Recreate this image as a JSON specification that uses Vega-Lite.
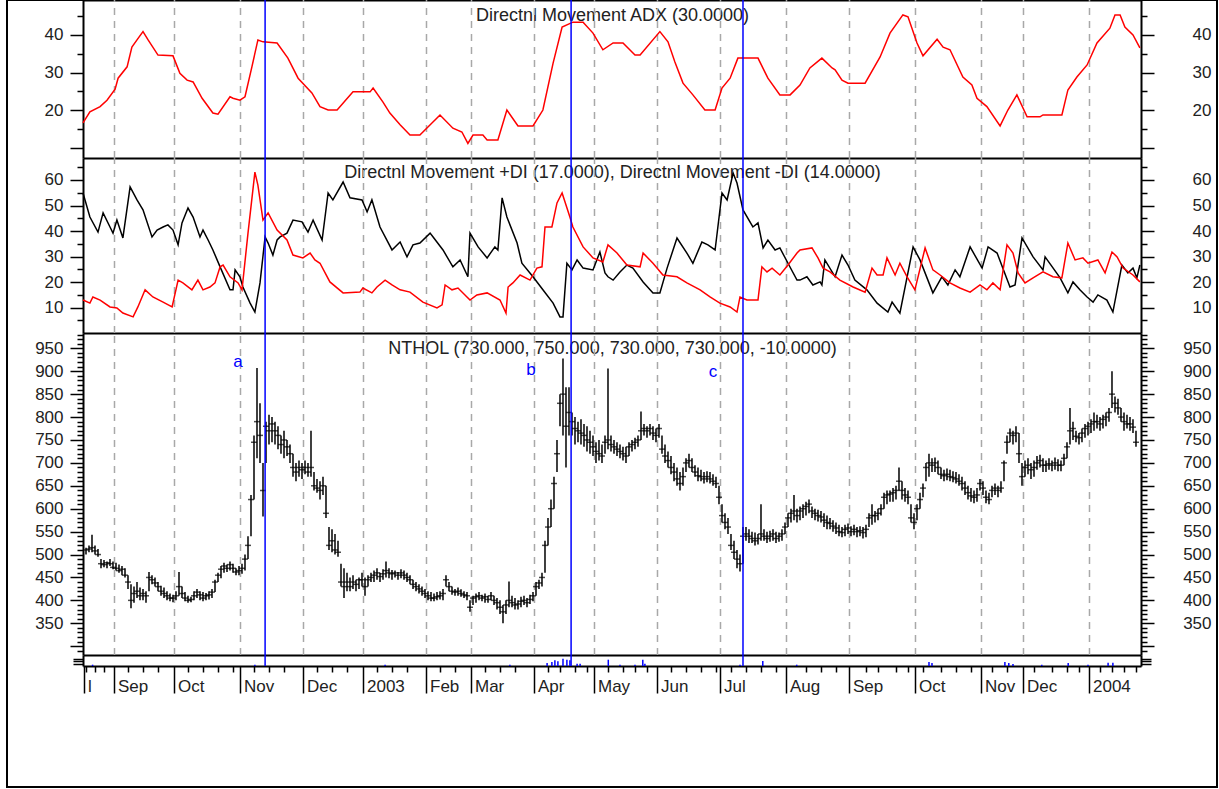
{
"$schema":"https://vega.github.io/schema/vega-lite/v6.json",
"width":1210,"height":787,
"autosize":{"type":"none"},
"padding":{"left":7,"top":0,"right":2,"bottom":2},
"background":"white",
"config":{
 "font":"Liberation Sans",
 "view":{"stroke":"black","strokeWidth":2},
 "axis":{"domainColor":"black","domainWidth":2,"tickColor":"black","tickWidth":1.5,"labelColor":"#222","labelFont":"Liberation Sans","labelFontSize":17,"labelOverlap":false,"labelFlush":false,"labelBound":false,"titleFont":"Liberation Sans","titleFontSize":18,"titleFontWeight":"normal","titleColor":"#222","grid":false}
},
"datasets":{
 "months":[{"m":10.5},{"m":30.5},{"m":52.5},{"m":73.5},{"m":93.5},{"m":114.5},{"m":129.5},{"m":150.5},{"m":170.5},{"m":191.5},{"m":212.5},{"m":234.5},{"m":255.5},{"m":277.5},{"m":299.5},{"m":313.5},{"m":335.5}],
 "events":[{"i":60.7},{"i":162.7},{"i":220}],
 "notes":[{"i":51.7,"p":920,"t":"a"},{"i":149.3,"p":903,"t":"b"},{"i":210,"p":898,"t":"c"}],
 "adx":[{"i":0,"v":16.7},{"i":2.3,"v":19.6},{"i":5.7,"v":21},{"i":8,"v":22.7},{"i":10.7,"v":25.6},{"i":11.7,"v":28.5},{"i":14.7,"v":31.5},{"i":16.3,"v":36.7},{"i":18,"v":38.6},{"i":20,"v":40.8},{"i":21.7,"v":38.6},{"i":25,"v":34.6},{"i":30,"v":34.4},{"i":32.3,"v":29.8},{"i":34.7,"v":28},{"i":36.7,"v":27.5},{"i":39.7,"v":23.2},{"i":43.3,"v":19.3},{"i":45,"v":19},{"i":49,"v":23.6},{"i":50,"v":23.2},{"i":52.3,"v":22.7},{"i":54,"v":23.6},{"i":56.3,"v":31.5},{"i":58.3,"v":38.6},{"i":60,"v":38.1},{"i":64.7,"v":37.8},{"i":68.3,"v":33.8},{"i":71.7,"v":28.5},{"i":76.3,"v":24.6},{"i":79,"v":21},{"i":81.7,"v":20.1},{"i":84.7,"v":20.1},{"i":90,"v":24.9},{"i":95.7,"v":24.9},{"i":96.7,"v":25.9},{"i":100,"v":22.2},{"i":102.3,"v":19.3},{"i":105.7,"v":16.2},{"i":109,"v":13.5},{"i":112.3,"v":13.5},{"i":119,"v":18.8},{"i":123.3,"v":15.3},{"i":126.3,"v":14.3},{"i":128.3,"v":11.3},{"i":130,"v":13.5},{"i":133.3,"v":13.5},{"i":134.7,"v":12.2},{"i":138.3,"v":12.2},{"i":141.3,"v":20.1},{"i":145,"v":15.9},{"i":150,"v":15.9},{"i":153.3,"v":20.1},{"i":156.7,"v":32.5},{"i":159.7,"v":42},{"i":163.3,"v":43.3},{"i":166.7,"v":43.3},{"i":170,"v":40.4},{"i":173.3,"v":36},{"i":176.7,"v":37.8},{"i":180,"v":37.8},{"i":184,"v":34.6},{"i":185.7,"v":34.6},{"i":192.3,"v":40.8},{"i":195,"v":38.1},{"i":197.3,"v":32.8},{"i":200,"v":27.2},{"i":203.3,"v":24.1},{"i":207.3,"v":20.1},{"i":210.7,"v":20.1},{"i":213,"v":25.9},{"i":215.7,"v":28.5},{"i":218.3,"v":33.8},{"i":225,"v":33.8},{"i":228.3,"v":28.5},{"i":232.3,"v":24.1},{"i":235.7,"v":24.1},{"i":239,"v":26.7},{"i":242.3,"v":31.2},{"i":246.3,"v":33.8},{"i":249.7,"v":31.2},{"i":250.7,"v":30.7},{"i":253,"v":28},{"i":255,"v":27.2},{"i":260.7,"v":27.2},{"i":265.7,"v":34.1},{"i":269,"v":40.4},{"i":273.3,"v":45.2},{"i":275,"v":44.7},{"i":278,"v":37.8},{"i":280,"v":34.4},{"i":284.7,"v":38.8},{"i":286.7,"v":36.7},{"i":289,"v":36},{"i":293.3,"v":28.8},{"i":296.3,"v":26.7},{"i":298,"v":23.2},{"i":301.3,"v":21},{"i":305.7,"v":15.9},{"i":308.3,"v":20.1},{"i":311.3,"v":24.1},{"i":314.7,"v":18.3},{"i":319,"v":18.3},{"i":320,"v":18.8},{"i":326.3,"v":18.8},{"i":328.3,"v":25.4},{"i":331.3,"v":28.8},{"i":334.7,"v":32},{"i":338,"v":37.8},{"i":342.3,"v":41.7},{"i":344,"v":45.2},{"i":345.7,"v":45.2},{"i":347.3,"v":42},{"i":350,"v":39.9},{"i":352.3,"v":36.5}],
 "mdi":[{"i":0,"v":54.9},{"i":2.3,"v":45.5},{"i":5,"v":39.6},{"i":6.7,"v":47.1},{"i":9,"v":41.6},{"i":10,"v":39.2},{"i":11.3,"v":44.3},{"i":13.3,"v":37.3},{"i":15.7,"v":57.3},{"i":18,"v":52.2},{"i":20,"v":48.3},{"i":23,"v":37.7},{"i":24.7,"v":40.4},{"i":26.7,"v":41.6},{"i":28.3,"v":42.4},{"i":30,"v":40.4},{"i":31.7,"v":34.6},{"i":33,"v":43.2},{"i":35,"v":49},{"i":36.7,"v":45.5},{"i":39,"v":37.7},{"i":40,"v":40.4},{"i":41.7,"v":36.5},{"i":43.3,"v":32.6},{"i":45.7,"v":26},{"i":49,"v":17},{"i":50,"v":17},{"i":50.7,"v":24.8},{"i":52.3,"v":22.1},{"i":53.3,"v":18.1},{"i":55.7,"v":11.8},{"i":57.3,"v":8.3},{"i":59,"v":19.7},{"i":60.7,"v":37.7},{"i":61.7,"v":35.3},{"i":63.3,"v":30.6},{"i":64.7,"v":36.5},{"i":65.7,"v":37.7},{"i":68,"v":39.2},{"i":70,"v":44.3},{"i":73,"v":43.6},{"i":75,"v":39.6},{"i":76.7,"v":44.3},{"i":79.7,"v":36.5},{"i":81.7,"v":54.9},{"i":83.3,"v":52.2},{"i":86.7,"v":59.2},{"i":89,"v":53},{"i":93,"v":52.2},{"i":94.7,"v":47.5},{"i":96.3,"v":52.2},{"i":99,"v":41.6},{"i":103,"v":32.6},{"i":105.7,"v":35.7},{"i":108,"v":29.9},{"i":110,"v":34.6},{"i":112.3,"v":35.3},{"i":115.7,"v":39.2},{"i":116.7,"v":37.7},{"i":120,"v":32.6},{"i":123.3,"v":26},{"i":125.7,"v":28.7},{"i":128.3,"v":22.1},{"i":129,"v":39.2},{"i":131.7,"v":33.8},{"i":134.7,"v":29.5},{"i":137.3,"v":33.8},{"i":138.3,"v":32.6},{"i":139.7,"v":53},{"i":141.3,"v":45.5},{"i":144.7,"v":35.3},{"i":146.3,"v":27.4},{"i":150,"v":22.1},{"i":153.3,"v":17},{"i":156.7,"v":11.8},{"i":159,"v":6.4},{"i":160,"v":6.4},{"i":161.3,"v":27.4},{"i":163,"v":24.8},{"i":164.7,"v":28.7},{"i":166.7,"v":25.5},{"i":170,"v":24.8},{"i":172.3,"v":31.8},{"i":174,"v":23.6},{"i":175,"v":22.1},{"i":176.7,"v":20.8},{"i":179,"v":24},{"i":181.3,"v":26.7},{"i":183.3,"v":25.5},{"i":186.7,"v":20.1},{"i":190,"v":15.8},{"i":192.3,"v":15.8},{"i":194.7,"v":25.5},{"i":198,"v":37.3},{"i":201.3,"v":31.4},{"i":203.3,"v":27.4},{"i":206.3,"v":35.7},{"i":208.3,"v":34.6},{"i":210.7,"v":32.6},{"i":213,"v":54.9},{"i":214.7,"v":52.2},{"i":216.7,"v":62.7},{"i":218,"v":58.8},{"i":220,"v":48.3},{"i":223.3,"v":41.6},{"i":225,"v":43.2},{"i":226.7,"v":33.4},{"i":228.3,"v":36.5},{"i":230.7,"v":32.6},{"i":232.3,"v":33.4},{"i":235,"v":27.4},{"i":238,"v":20.8},{"i":239,"v":20.8},{"i":241.3,"v":22.1},{"i":243.3,"v":18.9},{"i":245.7,"v":20.1},{"i":246.3,"v":18.9},{"i":247.3,"v":28.7},{"i":250.7,"v":22.1},{"i":253,"v":30.6},{"i":255,"v":26.7},{"i":257.3,"v":20.8},{"i":261.3,"v":17},{"i":264.7,"v":11.8},{"i":268.3,"v":8.3},{"i":269.7,"v":12.2},{"i":272.3,"v":7.9},{"i":276.7,"v":33.8},{"i":279,"v":28.7},{"i":283.3,"v":15.8},{"i":286.3,"v":22.1},{"i":288.3,"v":18.9},{"i":290.7,"v":24.8},{"i":292.3,"v":22.1},{"i":295.7,"v":33.8},{"i":299.7,"v":25.5},{"i":301.7,"v":33.8},{"i":304.7,"v":31.4},{"i":309,"v":18.1},{"i":310.7,"v":18.9},{"i":313,"v":37.3},{"i":316.7,"v":29.9},{"i":320,"v":24.8},{"i":320.7,"v":29.9},{"i":325.7,"v":21.7},{"i":328.3,"v":15.8},{"i":330,"v":20.1},{"i":332.3,"v":17},{"i":334.7,"v":14.2},{"i":336.7,"v":12.2},{"i":338.3,"v":15},{"i":341.3,"v":13},{"i":343.3,"v":8.3},{"i":346.3,"v":26.7},{"i":348.3,"v":23.6},{"i":350,"v":25.5},{"i":351.3,"v":21.7},{"i":352.3,"v":26.7}],
 "pdi":[{"i":0,"v":13},{"i":2.3,"v":11.8},{"i":3.3,"v":14.2},{"i":5.7,"v":13},{"i":9,"v":10.3},{"i":11.3,"v":9.9},{"i":13.3,"v":7.9},{"i":16.7,"v":6.4},{"i":18.3,"v":10.3},{"i":20.7,"v":17},{"i":23.3,"v":14.2},{"i":26.7,"v":12.2},{"i":29.7,"v":10.3},{"i":31.7,"v":20.8},{"i":33.3,"v":19.7},{"i":36.3,"v":17},{"i":38.3,"v":20.8},{"i":40,"v":17},{"i":42.3,"v":18.1},{"i":44,"v":19.7},{"i":45.7,"v":26},{"i":46.7,"v":26.7},{"i":49,"v":22.1},{"i":51.7,"v":19.7},{"i":53,"v":17},{"i":55,"v":39.2},{"i":57.3,"v":63.1},{"i":58.3,"v":58},{"i":60,"v":44.3},{"i":61.7,"v":47.1},{"i":64.7,"v":40.4},{"i":68,"v":36.5},{"i":70,"v":30.6},{"i":73.3,"v":29.5},{"i":75.7,"v":31.4},{"i":77.3,"v":28.7},{"i":79,"v":27.4},{"i":82.3,"v":20.1},{"i":86.7,"v":15.8},{"i":92.3,"v":16.1},{"i":93.3,"v":17.7},{"i":96.3,"v":15.8},{"i":98,"v":18.1},{"i":100.7,"v":20.8},{"i":103,"v":18.9},{"i":105.7,"v":17},{"i":109,"v":16.1},{"i":113.3,"v":12.2},{"i":118,"v":9.9},{"i":119.7,"v":11.1},{"i":120.7,"v":18.9},{"i":123,"v":17},{"i":125,"v":17.7},{"i":129,"v":13},{"i":131.3,"v":15},{"i":134.7,"v":15.8},{"i":139,"v":13},{"i":141,"v":7.9},{"i":141.7,"v":18.1},{"i":143.3,"v":19.7},{"i":145.7,"v":22.8},{"i":149,"v":20.8},{"i":151.3,"v":25.5},{"i":153,"v":26},{"i":154,"v":41.6},{"i":156.3,"v":41.6},{"i":158,"v":51},{"i":159.7,"v":54.9},{"i":162.3,"v":45.5},{"i":163.3,"v":41.6},{"i":166.7,"v":33.8},{"i":170,"v":29.5},{"i":173.3,"v":27.9},{"i":175,"v":34.6},{"i":178,"v":31.4},{"i":181.3,"v":26.7},{"i":185.7,"v":26},{"i":186.7,"v":31.4},{"i":190,"v":27.4},{"i":193.3,"v":22.8},{"i":198,"v":22.1},{"i":201.3,"v":19.7},{"i":205.7,"v":17},{"i":209,"v":14.2},{"i":212.3,"v":11.8},{"i":215.7,"v":10.3},{"i":218,"v":8.3},{"i":219,"v":14.2},{"i":221.3,"v":13},{"i":225,"v":13},{"i":226.3,"v":26},{"i":228,"v":24},{"i":229.7,"v":25.5},{"i":232.3,"v":22.8},{"i":235,"v":26.7},{"i":238,"v":31.4},{"i":239,"v":32.6},{"i":243,"v":33.4},{"i":245,"v":29.5},{"i":246.7,"v":25.5},{"i":249,"v":24},{"i":252.3,"v":20.8},{"i":256.7,"v":18.1},{"i":260.7,"v":16.1},{"i":263,"v":25.5},{"i":264.7,"v":22.8},{"i":266.7,"v":22.8},{"i":268,"v":29.5},{"i":270.7,"v":22.8},{"i":272.3,"v":27.4},{"i":274.7,"v":22.1},{"i":277.3,"v":17},{"i":280.7,"v":33.4},{"i":283.3,"v":24.8},{"i":285.7,"v":22.8},{"i":289,"v":19.7},{"i":292.3,"v":17.7},{"i":295.7,"v":16.1},{"i":299,"v":18.9},{"i":301.3,"v":17},{"i":303.3,"v":19.7},{"i":305.7,"v":17},{"i":308,"v":34.6},{"i":310,"v":31.4},{"i":311.7,"v":23.6},{"i":314,"v":19.7},{"i":316.7,"v":21.7},{"i":320,"v":24},{"i":323.3,"v":22.1},{"i":326.3,"v":21.7},{"i":328.3,"v":35.3},{"i":330.7,"v":28.7},{"i":333.3,"v":29.5},{"i":335,"v":27.4},{"i":338.3,"v":28.7},{"i":340.7,"v":23.6},{"i":343,"v":31.8},{"i":344.7,"v":29.9},{"i":346.7,"v":25.5},{"i":350,"v":22.8},{"i":352.3,"v":20.1}],
 "vol":[{"i":3.2,"v":13},{"i":57.3,"v":13},{"i":100.7,"v":13},{"i":142.3,"v":13},{"i":154.7,"v":30},{"i":156.3,"v":40},{"i":157.3,"v":57},{"i":158.3,"v":47},{"i":160,"v":73},{"i":161.3,"v":63},{"i":162.3,"v":57},{"i":164.7,"v":23},{"i":165.7,"v":23},{"i":175.1,"v":63},{"i":179,"v":13},{"i":184,"v":13},{"i":186.6,"v":63},{"i":187.3,"v":23},{"i":219,"v":13},{"i":226.6,"v":50},{"i":237.9,"v":13},{"i":282,"v":40},{"i":283,"v":30},{"i":307.3,"v":40},{"i":308.6,"v":30},{"i":310,"v":20},{"i":319.6,"v":13},{"i":328.4,"v":30},{"i":335,"v":13},{"i":341.7,"v":33},{"i":343.3,"v":33}],
 "bars":[{"i":1,"h":515,"l":500,"c":510},{"i":2,"h":520,"l":505,"c":512},{"i":3,"h":543,"l":505,"c":515},{"i":4,"h":520,"l":500,"c":508},{"i":5,"h":512,"l":495,"c":500},{"i":6,"h":490,"l":470,"c":480},{"i":7,"h":488,"l":472,"c":478},{"i":8,"h":485,"l":470,"c":482},{"i":9,"h":490,"l":475,"c":480},{"i":10,"h":485,"l":468,"c":472},{"i":11,"h":482,"l":465,"c":470},{"i":12,"h":478,"l":460,"c":465},{"i":13,"h":475,"l":455,"c":468},{"i":14,"h":470,"l":450,"c":455},{"i":15,"h":455,"l":425,"c":440},{"i":16,"h":435,"l":383,"c":400},{"i":17,"h":430,"l":395,"c":415},{"i":18,"h":440,"l":405,"c":420},{"i":19,"h":428,"l":400,"c":410},{"i":20,"h":425,"l":400,"c":415},{"i":21,"h":420,"l":395,"c":410},{"i":22,"h":462,"l":420,"c":450},{"i":23,"h":455,"l":435,"c":445},{"i":24,"h":450,"l":430,"c":438},{"i":25,"h":440,"l":420,"c":430},{"i":26,"h":432,"l":410,"c":420},{"i":27,"h":428,"l":405,"c":415},{"i":28,"h":420,"l":400,"c":410},{"i":29,"h":415,"l":398,"c":405},{"i":30,"h":412,"l":396,"c":405},{"i":31,"h":420,"l":400,"c":410},{"i":32,"h":462,"l":410,"c":430},{"i":33,"h":430,"l":405,"c":415},{"i":34,"h":418,"l":398,"c":405},{"i":35,"h":410,"l":395,"c":400},{"i":36,"h":408,"l":396,"c":402},{"i":37,"h":420,"l":400,"c":410},{"i":38,"h":425,"l":405,"c":418},{"i":39,"h":420,"l":400,"c":412},{"i":40,"h":418,"l":398,"c":405},{"i":41,"h":416,"l":400,"c":410},{"i":42,"h":420,"l":402,"c":412},{"i":43,"h":425,"l":405,"c":418},{"i":44,"h":445,"l":418,"c":440},{"i":45,"h":460,"l":440,"c":455},{"i":46,"h":475,"l":448,"c":468},{"i":47,"h":482,"l":460,"c":475},{"i":48,"h":478,"l":462,"c":470},{"i":49,"h":485,"l":465,"c":478},{"i":50,"h":480,"l":460,"c":470},{"i":51,"h":470,"l":455,"c":462},{"i":52,"h":475,"l":455,"c":465},{"i":53,"h":480,"l":458,"c":470},{"i":54,"h":500,"l":465,"c":490},{"i":55,"h":540,"l":490,"c":520},{"i":56,"h":630,"l":540,"c":620},{"i":57,"h":760,"l":620,"c":745},{"i":58,"h":907,"l":710,"c":790},{"i":59,"h":830,"l":700,"c":760},{"i":60,"h":700,"l":583,"c":640},{"i":61,"h":790,"l":700,"c":780},{"i":62,"h":805,"l":740,"c":770},{"i":63,"h":800,"l":745,"c":785},{"i":64,"h":790,"l":740,"c":770},{"i":65,"h":780,"l":730,"c":760},{"i":66,"h":760,"l":720,"c":740},{"i":67,"h":770,"l":710,"c":750},{"i":68,"h":750,"l":715,"c":735},{"i":69,"h":740,"l":700,"c":720},{"i":70,"h":720,"l":670,"c":690},{"i":71,"h":700,"l":660,"c":680},{"i":72,"h":705,"l":670,"c":690},{"i":73,"h":700,"l":665,"c":685},{"i":74,"h":705,"l":675,"c":690},{"i":75,"h":700,"l":670,"c":680},{"i":76,"h":770,"l":670,"c":690},{"i":77,"h":680,"l":640,"c":650},{"i":78,"h":665,"l":635,"c":645},{"i":79,"h":660,"l":620,"c":640},{"i":80,"h":670,"l":630,"c":650},{"i":81,"h":650,"l":580,"c":590},{"i":82,"h":560,"l":510,"c":520},{"i":83,"h":555,"l":505,"c":530},{"i":84,"h":545,"l":500,"c":510},{"i":85,"h":530,"l":495,"c":505},{"i":86,"h":480,"l":430,"c":440},{"i":87,"h":470,"l":405,"c":430},{"i":88,"h":460,"l":420,"c":440},{"i":89,"h":450,"l":420,"c":430},{"i":90,"h":455,"l":425,"c":440},{"i":91,"h":445,"l":420,"c":435},{"i":92,"h":450,"l":425,"c":445},{"i":93,"h":460,"l":430,"c":445},{"i":94,"h":450,"l":410,"c":430},{"i":95,"h":455,"l":430,"c":445},{"i":96,"h":460,"l":440,"c":450},{"i":97,"h":465,"l":440,"c":455},{"i":98,"h":470,"l":445,"c":460},{"i":99,"h":460,"l":440,"c":452},{"i":100,"h":468,"l":445,"c":458},{"i":101,"h":485,"l":450,"c":465},{"i":102,"h":470,"l":448,"c":460},{"i":103,"h":466,"l":445,"c":458},{"i":104,"h":465,"l":450,"c":460},{"i":105,"h":462,"l":445,"c":455},{"i":106,"h":468,"l":448,"c":460},{"i":107,"h":465,"l":445,"c":455},{"i":108,"h":460,"l":440,"c":450},{"i":109,"h":455,"l":435,"c":445},{"i":110,"h":445,"l":425,"c":435},{"i":111,"h":440,"l":420,"c":430},{"i":112,"h":435,"l":415,"c":425},{"i":113,"h":430,"l":410,"c":420},{"i":114,"h":425,"l":405,"c":415},{"i":115,"h":420,"l":400,"c":410},{"i":116,"h":418,"l":398,"c":405},{"i":117,"h":415,"l":398,"c":405},{"i":118,"h":418,"l":400,"c":408},{"i":119,"h":420,"l":402,"c":410},{"i":120,"h":425,"l":400,"c":415},{"i":121,"h":455,"l":430,"c":445},{"i":122,"h":440,"l":420,"c":430},{"i":123,"h":430,"l":412,"c":420},{"i":124,"h":425,"l":410,"c":418},{"i":125,"h":428,"l":410,"c":420},{"i":126,"h":424,"l":408,"c":415},{"i":127,"h":420,"l":405,"c":412},{"i":128,"h":418,"l":400,"c":410},{"i":129,"h":400,"l":375,"c":385},{"i":130,"h":410,"l":390,"c":405},{"i":131,"h":415,"l":395,"c":408},{"i":132,"h":418,"l":400,"c":410},{"i":133,"h":412,"l":398,"c":405},{"i":134,"h":415,"l":395,"c":408},{"i":135,"h":410,"l":395,"c":402},{"i":136,"h":418,"l":400,"c":410},{"i":137,"h":410,"l":390,"c":400},{"i":138,"h":405,"l":380,"c":395},{"i":139,"h":400,"l":370,"c":385},{"i":140,"h":390,"l":350,"c":375},{"i":141,"h":400,"l":370,"c":390},{"i":142,"h":441,"l":385,"c":400},{"i":143,"h":410,"l":385,"c":395},{"i":144,"h":405,"l":380,"c":390},{"i":145,"h":400,"l":380,"c":392},{"i":146,"h":408,"l":385,"c":398},{"i":147,"h":410,"l":390,"c":400},{"i":148,"h":405,"l":385,"c":395},{"i":149,"h":412,"l":392,"c":402},{"i":150,"h":418,"l":398,"c":410},{"i":151,"h":440,"l":410,"c":430},{"i":152,"h":445,"l":425,"c":438},{"i":153,"h":460,"l":430,"c":450},{"i":154,"h":530,"l":460,"c":520},{"i":155,"h":580,"l":520,"c":560},{"i":156,"h":620,"l":560,"c":600},{"i":157,"h":670,"l":600,"c":655},{"i":158,"h":750,"l":680,"c":720},{"i":159,"h":850,"l":780,"c":830},{"i":160,"h":928,"l":760,"c":850},{"i":161,"h":865,"l":690,"c":780},{"i":162,"h":865,"l":760,"c":810},{"i":163,"h":810,"l":760,"c":790},{"i":164,"h":800,"l":740,"c":775},{"i":165,"h":790,"l":745,"c":770},{"i":166,"h":795,"l":740,"c":765},{"i":167,"h":785,"l":735,"c":760},{"i":168,"h":780,"l":725,"c":750},{"i":169,"h":770,"l":720,"c":745},{"i":170,"h":760,"l":715,"c":735},{"i":171,"h":745,"l":700,"c":725},{"i":172,"h":750,"l":705,"c":720},{"i":173,"h":740,"l":700,"c":715},{"i":174,"h":760,"l":720,"c":745},{"i":175,"h":906,"l":730,"c":750},{"i":176,"h":760,"l":725,"c":740},{"i":177,"h":750,"l":720,"c":735},{"i":178,"h":745,"l":715,"c":730},{"i":179,"h":740,"l":710,"c":725},{"i":180,"h":735,"l":705,"c":720},{"i":181,"h":735,"l":700,"c":715},{"i":182,"h":745,"l":715,"c":735},{"i":183,"h":750,"l":725,"c":740},{"i":184,"h":755,"l":730,"c":745},{"i":185,"h":760,"l":735,"c":750},{"i":186,"h":812,"l":750,"c":770},{"i":187,"h":785,"l":760,"c":775},{"i":188,"h":780,"l":755,"c":770},{"i":189,"h":785,"l":760,"c":775},{"i":190,"h":780,"l":750,"c":765},{"i":191,"h":775,"l":745,"c":760},{"i":192,"h":785,"l":755,"c":775},{"i":193,"h":760,"l":720,"c":730},{"i":194,"h":740,"l":700,"c":715},{"i":195,"h":725,"l":690,"c":705},{"i":196,"h":715,"l":675,"c":690},{"i":197,"h":700,"l":660,"c":680},{"i":198,"h":690,"l":650,"c":665},{"i":199,"h":680,"l":640,"c":655},{"i":200,"h":690,"l":650,"c":670},{"i":201,"h":710,"l":680,"c":700},{"i":202,"h":720,"l":690,"c":705},{"i":203,"h":710,"l":680,"c":690},{"i":204,"h":695,"l":670,"c":680},{"i":205,"h":690,"l":660,"c":672},{"i":206,"h":685,"l":660,"c":670},{"i":207,"h":680,"l":655,"c":665},{"i":208,"h":682,"l":658,"c":670},{"i":209,"h":680,"l":655,"c":665},{"i":210,"h":675,"l":650,"c":660},{"i":211,"h":670,"l":645,"c":655},{"i":212,"h":650,"l":610,"c":625},{"i":213,"h":610,"l":570,"c":585},{"i":214,"h":590,"l":555,"c":570},{"i":215,"h":580,"l":545,"c":560},{"i":216,"h":545,"l":510,"c":520},{"i":217,"h":530,"l":490,"c":505},{"i":218,"h":510,"l":470,"c":490},{"i":219,"h":500,"l":463,"c":480},{"i":220,"h":560,"l":480,"c":540},{"i":221,"h":560,"l":530,"c":545},{"i":222,"h":555,"l":525,"c":540},{"i":223,"h":550,"l":525,"c":535},{"i":224,"h":548,"l":520,"c":530},{"i":225,"h":545,"l":522,"c":535},{"i":226,"h":610,"l":530,"c":545},{"i":227,"h":555,"l":530,"c":540},{"i":228,"h":550,"l":525,"c":535},{"i":229,"h":552,"l":528,"c":540},{"i":230,"h":555,"l":530,"c":545},{"i":231,"h":550,"l":525,"c":535},{"i":232,"h":548,"l":528,"c":540},{"i":233,"h":555,"l":530,"c":545},{"i":234,"h":570,"l":545,"c":560},{"i":235,"h":590,"l":560,"c":580},{"i":236,"h":600,"l":570,"c":590},{"i":237,"h":630,"l":575,"c":595},{"i":238,"h":600,"l":570,"c":585},{"i":239,"h":605,"l":575,"c":595},{"i":240,"h":610,"l":580,"c":600},{"i":241,"h":615,"l":585,"c":605},{"i":242,"h":620,"l":590,"c":610},{"i":243,"h":605,"l":580,"c":595},{"i":244,"h":600,"l":575,"c":590},{"i":245,"h":598,"l":572,"c":585},{"i":246,"h":595,"l":570,"c":582},{"i":247,"h":590,"l":560,"c":575},{"i":248,"h":585,"l":555,"c":570},{"i":249,"h":580,"l":555,"c":568},{"i":250,"h":575,"l":550,"c":562},{"i":251,"h":570,"l":545,"c":558},{"i":252,"h":565,"l":540,"c":550},{"i":253,"h":560,"l":538,"c":548},{"i":254,"h":565,"l":540,"c":555},{"i":255,"h":568,"l":545,"c":558},{"i":256,"h":562,"l":540,"c":550},{"i":257,"h":565,"l":542,"c":555},{"i":258,"h":560,"l":538,"c":550},{"i":259,"h":562,"l":540,"c":552},{"i":260,"h":560,"l":535,"c":548},{"i":261,"h":565,"l":538,"c":555},{"i":262,"h":590,"l":560,"c":580},{"i":263,"h":610,"l":565,"c":585},{"i":264,"h":595,"l":570,"c":585},{"i":265,"h":600,"l":575,"c":590},{"i":266,"h":610,"l":585,"c":600},{"i":267,"h":635,"l":600,"c":625},{"i":268,"h":640,"l":610,"c":630},{"i":269,"h":640,"l":615,"c":632},{"i":270,"h":645,"l":615,"c":635},{"i":271,"h":650,"l":620,"c":640},{"i":272,"h":690,"l":640,"c":660},{"i":273,"h":660,"l":620,"c":640},{"i":274,"h":645,"l":615,"c":630},{"i":275,"h":640,"l":610,"c":625},{"i":276,"h":610,"l":570,"c":580},{"i":277,"h":590,"l":555,"c":570},{"i":278,"h":610,"l":575,"c":600},{"i":279,"h":635,"l":600,"c":620},{"i":280,"h":655,"l":625,"c":645},{"i":281,"h":700,"l":660,"c":690},{"i":282,"h":720,"l":670,"c":700},{"i":283,"h":710,"l":680,"c":695},{"i":284,"h":712,"l":680,"c":700},{"i":285,"h":705,"l":675,"c":690},{"i":286,"h":690,"l":665,"c":675},{"i":287,"h":685,"l":660,"c":672},{"i":288,"h":688,"l":662,"c":675},{"i":289,"h":685,"l":660,"c":670},{"i":290,"h":682,"l":658,"c":668},{"i":291,"h":680,"l":655,"c":665},{"i":292,"h":675,"l":650,"c":660},{"i":293,"h":670,"l":640,"c":655},{"i":294,"h":660,"l":630,"c":645},{"i":295,"h":650,"l":620,"c":635},{"i":296,"h":645,"l":615,"c":628},{"i":297,"h":640,"l":612,"c":625},{"i":298,"h":645,"l":615,"c":630},{"i":299,"h":665,"l":640,"c":655},{"i":300,"h":660,"l":630,"c":645},{"i":301,"h":640,"l":612,"c":625},{"i":302,"h":635,"l":610,"c":620},{"i":303,"h":650,"l":625,"c":640},{"i":304,"h":655,"l":630,"c":645},{"i":305,"h":650,"l":625,"c":640},{"i":306,"h":660,"l":635,"c":645},{"i":307,"h":705,"l":660,"c":700},{"i":308,"h":760,"l":720,"c":745},{"i":309,"h":775,"l":745,"c":765},{"i":310,"h":770,"l":740,"c":760},{"i":311,"h":780,"l":745,"c":765},{"i":312,"h":765,"l":700,"c":720},{"i":313,"h":700,"l":650,"c":670},{"i":314,"h":705,"l":670,"c":690},{"i":315,"h":710,"l":675,"c":695},{"i":316,"h":700,"l":665,"c":685},{"i":317,"h":705,"l":670,"c":690},{"i":318,"h":715,"l":685,"c":700},{"i":319,"h":718,"l":690,"c":705},{"i":320,"h":710,"l":680,"c":695},{"i":321,"h":705,"l":680,"c":695},{"i":322,"h":710,"l":685,"c":698},{"i":323,"h":705,"l":682,"c":695},{"i":324,"h":712,"l":685,"c":700},{"i":325,"h":708,"l":682,"c":695},{"i":326,"h":705,"l":682,"c":695},{"i":327,"h":720,"l":695,"c":710},{"i":328,"h":745,"l":710,"c":735},{"i":329,"h":820,"l":740,"c":770},{"i":330,"h":790,"l":750,"c":775},{"i":331,"h":770,"l":745,"c":758},{"i":332,"h":765,"l":740,"c":755},{"i":333,"h":775,"l":745,"c":765},{"i":334,"h":785,"l":755,"c":775},{"i":335,"h":790,"l":760,"c":780},{"i":336,"h":795,"l":765,"c":785},{"i":337,"h":810,"l":770,"c":790},{"i":338,"h":805,"l":775,"c":790},{"i":339,"h":800,"l":770,"c":785},{"i":340,"h":805,"l":775,"c":795},{"i":341,"h":810,"l":780,"c":800},{"i":342,"h":820,"l":790,"c":810},{"i":343,"h":900,"l":820,"c":850},{"i":344,"h":845,"l":810,"c":830},{"i":345,"h":840,"l":805,"c":820},{"i":346,"h":820,"l":790,"c":800},{"i":347,"h":810,"l":770,"c":790},{"i":348,"h":805,"l":775,"c":785},{"i":349,"h":800,"l":770,"c":785},{"i":350,"h":795,"l":765,"c":778},{"i":351,"h":770,"l":735,"c":745}]
},
"resolve":{"scale":{"y":"independent"},"axis":{"x":"independent","y":"independent"}},
"layer":[
 {"data":{"name":"months"},"mark":{"type":"rule","color":"#a8a8a8","strokeWidth":1.5,"strokeDash":[7,6]},
  "encoding":{
   "x":{"field":"m","type":"quantitative","scale":{"domain":[0,352.67],"range":[76,1134],"nice":false,"zero":false},"axis":{"orient":"top","offset":0,"ticks":false,"labels":false,"title":"Directnl Movement ADX (30.0000)","titlePadding":-24.5}},
   "y":{"datum":7.44,"type":"quantitative","scale":{"domain":[7.44,49.14],"range":[158,0],"nice":false,"zero":false},"axis":{"orient":"left","offset":-76,"title":null,"values":[10,15,20,25,30,35,40,45],"tickSize":{"condition":{"test":"datum.value % 10 == 0","value":13},"value":6},"labelExpr":"datum.value % 10 == 0 && datum.value >= 20 ? datum.label : ''","labelPadding":7}},
   "y2":{"datum":49.14}}},
 {"data":{"name":"adx"},"mark":{"type":"line","color":"#ff0000","strokeWidth":1.5},
  "encoding":{
   "x":{"field":"i","type":"quantitative","scale":{"domain":[0,352.67],"range":[76,1134],"nice":false,"zero":false},"axis":null},
   "y":{"field":"v","type":"quantitative","scale":{"domain":[7.44,49.14],"range":[158,0],"nice":false,"zero":false},"axis":{"orient":"right","offset":-76,"title":null,"values":[10,15,20,25,30,35,40,45],"tickSize":{"condition":{"test":"datum.value % 10 == 0","value":13},"value":6},"labelExpr":"datum.value % 10 == 0 && datum.value >= 20 ? datum.label : ''","labelAlign":"right","labelPadding":57}}}},
 {"mark":{"type":"rule","color":"#0000ff","strokeWidth":1.5},
  "encoding":{
   "x":{"datum":0,"type":"quantitative","scale":{"domain":[0,352.67],"range":[76,1134],"nice":false,"zero":false},"axis":{"orient":"top","offset":-158,"ticks":false,"labels":false,"title":"Directnl Movement +DI (17.0000), Directnl Movement -DI (14.0000)","titlePadding":-23}},
   "x2":{"datum":352.67},
   "y":{"datum":20,"type":"quantitative","scale":{"domain":[7.44,49.14],"range":[158,0],"nice":false,"zero":false},"axis":null}}},
 {"mark":{"type":"rule","color":"#000000","strokeWidth":2},
  "encoding":{
   "x":{"datum":-25.33,"type":"quantitative","scale":{"domain":[0,352.67],"range":[76,1134],"nice":false,"zero":false},"axis":null},
   "x2":{"datum":0},
   "y":{"datum":7.44,"type":"quantitative","scale":{"domain":[7.44,49.14],"range":[158,0],"nice":false,"zero":false},"axis":null}}},
 {"data":{"name":"months"},"mark":{"type":"rule","color":"#a8a8a8","strokeWidth":1.5,"strokeDash":[7,6]},
  "encoding":{
   "x":{"field":"m","type":"quantitative","scale":{"domain":[0,352.67],"range":[76,1134],"nice":false,"zero":false},"axis":{"orient":"top","offset":-333,"ticks":false,"labels":false,"title":"NTHOL (730.000, 750.000, 730.000, 730.000, -10.0000)","titlePadding":-24.5}},
   "y":{"datum":0.1,"type":"quantitative","scale":{"domain":[0.1,68.6],"range":[333,158],"nice":false,"zero":false},"axis":{"orient":"left","offset":-76,"title":null,"values":[5,10,15,20,25,30,35,40,45,50,55,60,65],"tickSize":{"condition":{"test":"datum.value % 10 == 0","value":13},"value":6},"labelExpr":"datum.value % 10 == 0 ? datum.label : ''","labelPadding":7}},
   "y2":{"datum":68.6}}},
 {"data":{"name":"mdi"},"mark":{"type":"line","color":"#000000","strokeWidth":1.5},
  "encoding":{
   "x":{"field":"i","type":"quantitative","scale":{"domain":[0,352.67],"range":[76,1134],"nice":false,"zero":false},"axis":null},
   "y":{"field":"v","type":"quantitative","scale":{"domain":[0.1,68.6],"range":[333,158],"nice":false,"zero":false},"axis":{"orient":"right","offset":-76,"title":null,"values":[5,10,15,20,25,30,35,40,45,50,55,60,65],"tickSize":{"condition":{"test":"datum.value % 10 == 0","value":13},"value":6},"labelExpr":"datum.value % 10 == 0 ? datum.label : ''","labelAlign":"right","labelPadding":57}}}},
 {"data":{"name":"pdi"},"mark":{"type":"line","color":"#ff0000","strokeWidth":1.5},
  "encoding":{
   "x":{"field":"i","type":"quantitative","scale":{"domain":[0,352.67],"range":[76,1134],"nice":false,"zero":false},"axis":null},
   "y":{"field":"v","type":"quantitative","scale":{"domain":[0.1,68.6],"range":[333,158],"nice":false,"zero":false},"axis":null}}},
 {"mark":{"type":"rule","color":"#000000","strokeWidth":2},
  "encoding":{
   "x":{"datum":-25.33,"type":"quantitative","scale":{"domain":[0,352.67],"range":[76,1134],"nice":false,"zero":false},"axis":null},
   "x2":{"datum":0},
   "y":{"datum":0.1,"type":"quantitative","scale":{"domain":[0.1,68.6],"range":[333,158],"nice":false,"zero":false},"axis":null}}},
 {"data":{"name":"months"},"mark":{"type":"rule","color":"#a8a8a8","strokeWidth":1.5,"strokeDash":[7,6]},
  "encoding":{
   "x":{"field":"m","type":"quantitative","scale":{"domain":[0,352.67],"range":[76,1134],"nice":false,"zero":false},"axis":null},
   "y":{"datum":280.8,"type":"quantitative","scale":{"domain":[280.8,983.4],"range":[655,333],"nice":false,"zero":false},"axis":{"orient":"left","offset":-76,"title":null,"values":[290,300,310,320,330,340,350,360,370,380,390,400,410,420,430,440,450,460,470,480,490,500,510,520,530,540,550,560,570,580,590,600,610,620,630,640,650,660,670,680,690,700,710,720,730,740,750,760,770,780,790,800,810,820,830,840,850,860,870,880,890,900,910,920,930,940,950,960,970,980],"tickSize":{"condition":{"test":"datum.value % 50 == 0","value":13},"value":6},"labelExpr":"datum.value % 50 == 0 && datum.value >= 350 && datum.value <= 950 ? datum.label : ''","labelPadding":7}},
   "y2":{"datum":983.4}}},
 {"data":{"name":"bars"},"mark":{"type":"rule","color":"#000000","strokeWidth":1.5},
  "encoding":{
   "x":{"field":"i","type":"quantitative","scale":{"domain":[0,352.67],"range":[76,1134],"nice":false,"zero":false},"axis":{"orient":"bottom","offset":-132,"ticks":false,"labels":false,"title":null}},
   "y":{"field":"l","type":"quantitative","scale":{"domain":[280.8,983.4],"range":[655,333],"nice":false,"zero":false},"axis":{"orient":"right","offset":-76,"title":null,"values":[290,300,310,320,330,340,350,360,370,380,390,400,410,420,430,440,450,460,470,480,490,500,510,520,530,540,550,560,570,580,590,600,610,620,630,640,650,660,670,680,690,700,710,720,730,740,750,760,770,780,790,800,810,820,830,840,850,860,870,880,890,900,910,920,930,940,950,960,970,980],"tickSize":{"condition":{"test":"datum.value % 50 == 0","value":13},"value":6},"labelExpr":"datum.value % 50 == 0 && datum.value >= 350 && datum.value <= 950 ? datum.label : ''","labelAlign":"right","labelPadding":57}},
   "y2":{"field":"h"}}},
 {"data":{"name":"bars"},"mark":{"type":"tick","orient":"horizontal","color":"#000000","size":6,"thickness":1.5},
  "encoding":{
   "x":{"field":"i","type":"quantitative","scale":{"domain":[0,352.67],"range":[76,1134],"nice":false,"zero":false},"axis":null},
   "y":{"field":"c","type":"quantitative","scale":{"domain":[280.8,983.4],"range":[655,333],"nice":false,"zero":false},"axis":null}}},
 {"data":{"name":"notes"},"mark":{"type":"text","color":"#0000ff","fontSize":17,"font":"Liberation Sans","baseline":"middle","align":"center"},
  "encoding":{
   "x":{"field":"i","type":"quantitative","scale":{"domain":[0,352.67],"range":[76,1134],"nice":false,"zero":false},"axis":null},
   "y":{"field":"p","type":"quantitative","scale":{"domain":[280.8,983.4],"range":[655,333],"nice":false,"zero":false},"axis":null},
   "text":{"field":"t"}}},
 {"data":{"name":"vol"},"mark":{"type":"rule","color":"#0000ff","strokeWidth":1.5},
  "encoding":{
   "x":{"field":"i","type":"quantitative","scale":{"domain":[0,352.67],"range":[76,1134],"nice":false,"zero":false},"axis":{"orient":"bottom","offset":-121,"title":null,"values":[0.5,1,4,7,10.5,15,20,25,30.5,35,40,45,50,52.5,57,62,67,73.5,78,83,88,93.5,98,103,108,114.5,119,124,129.5,134,139,144,150.5,155,159,164,168,170.5,175,180,184,188,191.5,196,201,206,211,212.5,216,221,226,231,234.5,241,246,251,255.5,261,265,271,275,277.5,280,286,291,296,299.5,303,308,313.5,317,323,328,332,335.5,339,343,347,351],"tickSize":{"condition":{"test":"datum.value % 1 != 0","value":27},"value":6},"labelExpr":"indexof([0.5,10.5,30.5,52.5,73.5,93.5,114.5,129.5,150.5,170.5,191.5,212.5,234.5,255.5,277.5,299.5,313.5,335.5], datum.value) >= 0 ? ['l','Sep','Oct','Nov','Dec','2003','Feb','Mar','Apr','May','Jun','Jul','Aug','Sep','Oct','Nov','Dec','2004'][indexof([0.5,10.5,30.5,52.5,73.5,93.5,114.5,129.5,150.5,170.5,191.5,212.5,234.5,255.5,277.5,299.5,313.5,335.5], datum.value)] : ''","labelAlign":"left","labelBaseline":"top","labelOffset":3,"labelPadding":-15}},
   "y":{"field":"v","type":"quantitative","scale":{"domain":[0,110],"range":[666,655],"nice":false,"zero":false},"axis":{"orient":"left","offset":-76,"title":null,"values":[25,50,75],"tickSize":10,"labels":false}},
   "y2":{"datum":0}}},
 {"mark":{"type":"rule","color":"#000000","strokeWidth":1},
  "encoding":{
   "x":{"datum":0,"type":"quantitative","scale":{"domain":[0,352.67],"range":[76,1134],"nice":false,"zero":false},"axis":null},
   "x2":{"datum":352.67},
   "y":{"datum":0,"type":"quantitative","scale":{"domain":[0,110],"range":[666,655],"nice":false,"zero":false},"axis":{"orient":"right","offset":-76,"title":null,"values":[25,50,75],"tickSize":10,"labels":false}}}},
 {"data":{"name":"events"},"mark":{"type":"rule","color":"#0000ff","strokeWidth":1.5},
  "encoding":{
   "x":{"field":"i","type":"quantitative","scale":{"domain":[0,352.67],"range":[76,1134],"nice":false,"zero":false},"axis":null},
   "y":{"datum":0,"type":"quantitative","scale":{"domain":[0,1],"range":[666,0],"nice":false,"zero":false},"axis":null},
   "y2":{"datum":1}}}
]
}
